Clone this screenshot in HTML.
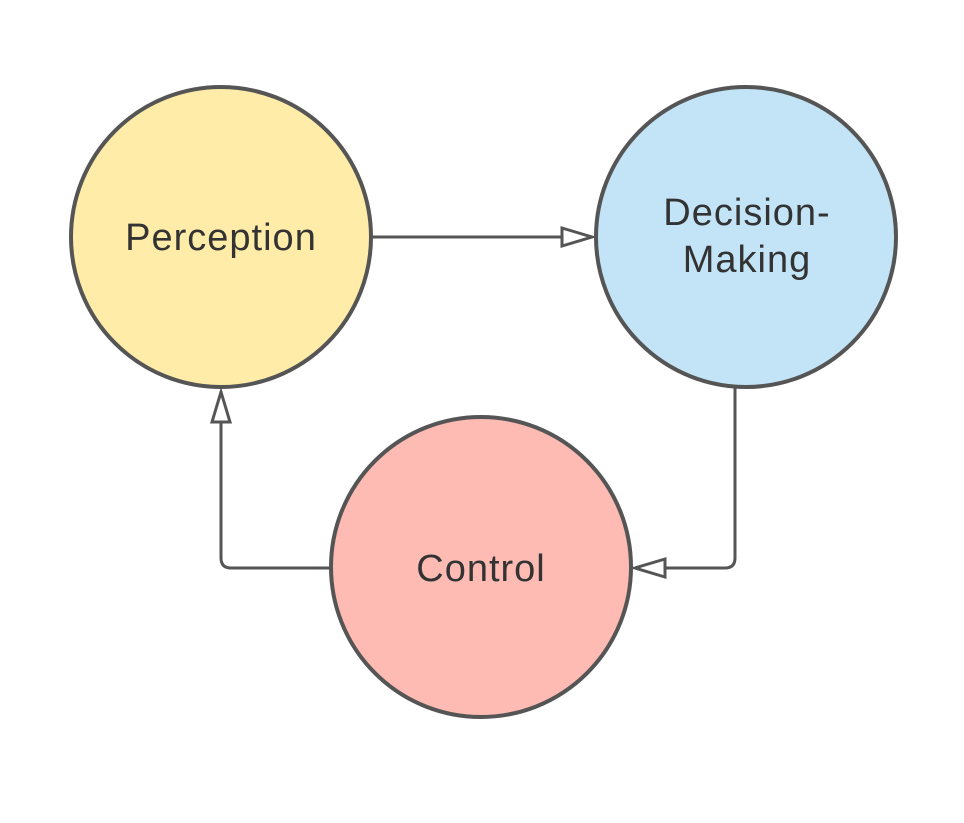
<!DOCTYPE html>
<html><head><style>body{margin:0;background:#fff}</style></head><body>
<svg width="964" height="818" xmlns="http://www.w3.org/2000/svg" font-family="Liberation Sans, sans-serif">
<rect width="964" height="818" fill="#fff"/>
<g stroke="#555" stroke-width="3" fill="none">
<path d="M372 237 H562"/>
<path d="M735 388 V558 Q735 568 725 568 H665"/>
<path d="M330 568 H231 Q221 568 221 558 V422"/>
</g>
<g stroke="#555" stroke-width="3" fill="#fff">
<path d="M562 228 L592 237 L562 246 Z"/>
<path d="M665 559 L635 568 L665 577 Z"/>
<path d="M212 422 L221 392 L230 422 Z"/>
</g>
<g stroke="#555" stroke-width="4">
<circle cx="221" cy="237" r="150" fill="#FEECA8"/>
<circle cx="746" cy="237" r="150" fill="#C3E4F6"/>
<circle cx="481" cy="567" r="150" fill="#FDBBB3"/>
</g>
<g fill="#333" font-size="38" text-anchor="middle" letter-spacing="1">
<text x="221" y="250">Perception</text>
<text x="747" y="225">Decision-</text>
<text x="747" y="272">Making</text>
<text x="481" y="581">Control</text>
</g>
</svg>
</body></html>
